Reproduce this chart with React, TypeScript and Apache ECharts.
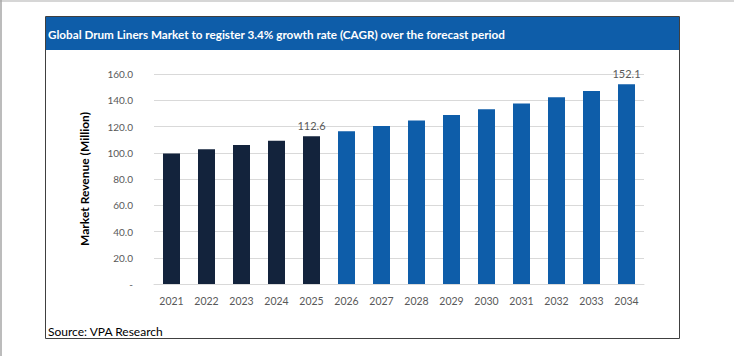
import React, { useEffect, useRef } from "react";
import * as echarts from "echarts";

const years = ["2021", "2022", "2023", "2024", "2025", "2026", "2027", "2028", "2029", "2030", "2031", "2032", "2033", "2034"];
const revenue = [99.4, 102.6, 105.9, 109.1, 112.6, 116.4, 120.4, 124.5, 128.7, 133.1, 137.6, 142.3, 147.1, 152.1];
const historicalCount = 5;
const labelledYears = ["2025", "2034"];
const yTicks = { min: 0, max: 160, interval: 20 };

const titleText = "Global Drum Liners Market to register 3.4% growth rate (CAGR) over the forecast period";
const sourceText = "Source: VPA Research";
const yAxisName = "Market Revenue (Million)";

const DARK = "#13233C";
const BLUE = "#0E5DA9";
const FONT = "Lato, 'Open Sans', sans-serif";

export default function App() {
  const ref = useRef<HTMLDivElement>(null);
  useEffect(() => {
    document.body.style.margin = "0";
    const chart = echarts.init(ref.current!, null, { renderer: "svg" });
    const data = revenue.map((v, i) => ({
      value: v,
      itemStyle: { color: i < historicalCount ? DARK : BLUE },
      label: { show: labelledYears.includes(years[i]) },
    }));
    chart.setOption({
      animation: false,
      textStyle: { fontFamily: FONT },
      grid: { left: 154, right: 90, top: 74, bottom: 72, containLabel: false },
      xAxis: {
        type: "category",
        data: years,
        axisLine: { lineStyle: { color: "#D9D9D9" } },
        axisTick: { show: false },
        axisLabel: { color: "#595959", fontSize: 10.5, margin: 11, fontFamily: FONT },
      },
      yAxis: {
        type: "value",
        min: yTicks.min,
        max: yTicks.max,
        interval: yTicks.interval,
        name: yAxisName,
        nameLocation: "middle",
        nameRotate: 90,
        nameGap: 64,
        nameTextStyle: { color: "#000000", fontSize: 12, fontWeight: "bold", fontFamily: FONT },
        axisLine: { show: false },
        axisTick: { show: false },
        splitLine: { lineStyle: { color: "#D9D9D9" } },
        axisLabel: {
          color: "#595959",
          fontSize: 10,
          margin: 21,
          fontFamily: FONT,
          formatter: (v: number) => (v === 0 ? "-" : v.toFixed(1)),
        },
      },
      series: [
        {
          type: "bar",
          data,
          barWidth: 17,
          label: {
            position: "top",
            distance: 5,
            color: "#595959",
            fontSize: 11,
            fontFamily: FONT,
            formatter: (p: any) => Number(p.value).toFixed(1),
          },
        },
      ],
      graphic: [
        { type: "line", shape: { x1: 0, y1: 1, x2: 734, y2: 1 }, style: { stroke: "#D6D6D6", lineWidth: 2 }, silent: true },
        { type: "line", shape: { x1: 1, y1: 0, x2: 1, y2: 356 }, style: { stroke: "#A6A6A6", lineWidth: 1.5 }, silent: true },
        { type: "rect", shape: { x: 45.5, y: 16.5, width: 634, height: 322 }, style: { fill: "none", stroke: "#404040", lineWidth: 1 }, silent: true, z: 10 },
        { type: "rect", shape: { x: 46, y: 17, width: 633, height: 33 }, style: { fill: BLUE }, silent: true },
        {
          type: "text",
          x: 48,
          y: 34,
          style: { text: titleText, fill: "#FFFFFF", font: `bold 11.7px ${FONT}`, textVerticalAlign: "middle" },
          silent: true,
        },
        {
          type: "text",
          x: 48,
          y: 331,
          style: { text: sourceText, fill: "#000000", font: `12px ${FONT}`, textVerticalAlign: "middle" },
          silent: true,
        },
      ],
    });
    return () => chart.dispose();
  }, []);
  return <div ref={ref} style={{ width: 734, height: 356 }} />;
}
